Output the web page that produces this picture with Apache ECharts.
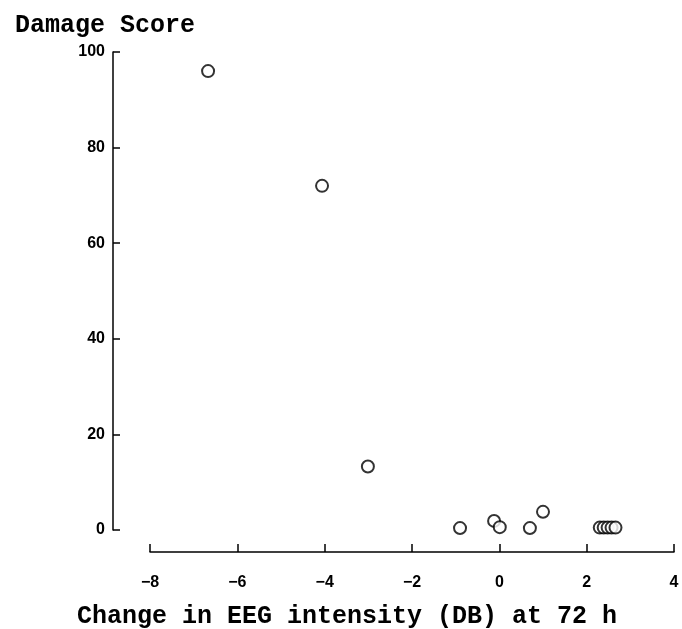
<!DOCTYPE html>
<html>
<head>
<meta charset="utf-8">
<script src="https://cdn.jsdelivr.net/npm/echarts@6/dist/echarts.min.js"></script>
<style>
  html, body { margin: 0; padding: 0; background: #fff; }
  #chart { width: 682px; height: 629px; }
</style>
</head>
<body>
<div id="chart"></div>
<script>
// EEG intensity change vs damage score
const eegChange = [-6.67, -4.06, -3.01, -0.90, -0.12, 0.01, 0.70, 1.00, 2.30, 2.39, 2.48, 2.57, 2.66]
const damageScore = [96, 72, 13.3, 0.4, 1.9, 0.6, 0.4, 3.8, 0.5, 0.5, 0.5, 0.5, 0.5]
const xTicks = [-8, -6, -4, -2, 0, 2, 4]
const yTicks = [0, 20, 40, 60, 80, 100]

const points = eegChange.map((x, i) => [x, damageScore[i]])
const labelFont = 'Liberation Sans'
const textFont = 'Liberation Mono'
const textStyle = { fontFamily: textFont, fontSize: 25, fontWeight: 'bold', color: '#000' }

const chart = echarts.init(document.getElementById('chart'))
chart.setOption({
    animation: false,
    backgroundColor: '#fff',
    title: [
        { text: 'Damage Score', left: 10, top: 8, textStyle: textStyle },
        { text: 'Change in EEG intensity (DB) at 72 h', left: 72, top: 599, textStyle: textStyle }
    ],
    grid: {
        left: 150,
        right: 8,
        top: 52,
        bottom: 99,
        outerBoundsMode: 'none'
    },
    xAxis: {
        type: 'value',
        min: xTicks[0],
        max: xTicks[xTicks.length - 1],
        interval: 2,
        offset: 22,
        splitLine: { show: false },
        axisLine: { onZero: false, lineStyle: { color: '#000', width: 1.5 } },
        axisTick: { inside: true, length: 8, lineStyle: { color: '#000', width: 1.5 } },
        axisLabel: {
            margin: 23,
            fontFamily: labelFont,
            fontSize: 16,
            fontWeight: 'bold',
            color: '#000',
            formatter: v => (v < 0 ? '\u2212' + Math.abs(v) : String(v))
        }
    },
    yAxis: {
        type: 'value',
        min: yTicks[0],
        max: yTicks[yTicks.length - 1],
        interval: 20,
        offset: 37,
        splitLine: { show: false },
        axisLine: { onZero: false, lineStyle: { color: '#000', width: 1.5 } },
        axisTick: { inside: true, length: 7, lineStyle: { color: '#000', width: 1.5 } },
        axisLabel: {
            margin: 8,
            fontFamily: labelFont,
            fontSize: 16,
            fontWeight: 'bold',
            color: '#000'
        }
    },
    series: [{
        type: 'scatter',
        data: points,
        symbol: 'circle',
        symbolSize: 12,
        itemStyle: { color: '#fff', borderColor: '#000', borderWidth: 2 }
    }]
})
</script>
</body>
</html>
